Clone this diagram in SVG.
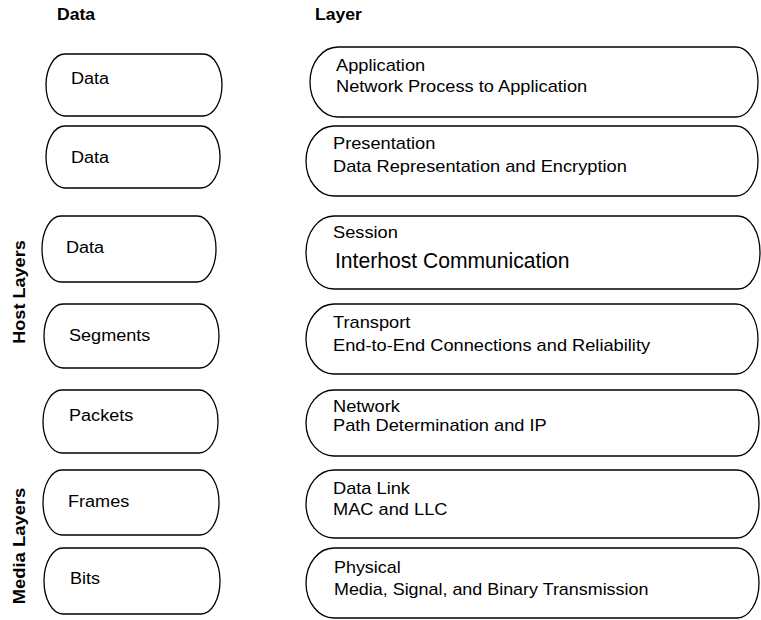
<svg xmlns="http://www.w3.org/2000/svg" width="761" height="620" viewBox="0 0 761 620">
<style>
.shape{fill:#fff;stroke:#000;stroke-width:1.3}
.t{font-family:"Liberation Sans",Arial,sans-serif;font-size:16px;fill:#000}
.big{font-family:"Liberation Sans",Arial,sans-serif;font-size:22px;fill:#000}
.h{font-family:"Liberation Sans",Arial,sans-serif;font-size:16px;font-weight:bold;fill:#000}
</style>
<rect width="761" height="620" fill="#fff"/>
<g id="headings">
<g transform="translate(57,0) scale(1.1,1)"><text class="h" x="0" y="20">Data</text></g>
<g transform="translate(315,0) scale(1.1,1)"><text class="h" x="0" y="20">Layer</text></g>
<text class="h" transform="translate(25,292) rotate(-90) scale(1.13,1)" text-anchor="middle">Host Layers</text>
<text class="h" transform="translate(25,546) rotate(-90) scale(1.15,1)" text-anchor="middle">Media Layers</text>
</g>
<g id="connectors"></g>
<g id="data1"><path class="shape" d="M65,54 H203 A19,31 0 0 1 203,116 H65 A19,31 0 0 1 65,54 Z"/><g transform="translate(71,0) scale(1.13,1)"><text class="t" x="0" y="84">Data</text></g></g>
<g id="data2"><path class="shape" d="M65,126 H201 A19,31 0 0 1 201,188 H65 A19,31 0 0 1 65,126 Z"/><g transform="translate(71,0) scale(1.13,1)"><text class="t" x="0" y="163">Data</text></g></g>
<g id="data3"><path class="shape" d="M61,216 H197 A19,33 0 0 1 197,282 H61 A19,33 0 0 1 61,216 Z"/><g transform="translate(66,0) scale(1.13,1)"><text class="t" x="0" y="253">Data</text></g></g>
<g id="segments"><path class="shape" d="M63,304 H200 A19,32 0 0 1 200,368 H63 A19,32 0 0 1 63,304 Z"/><g transform="translate(69,0) scale(1.13,1)"><text class="t" x="0" y="341">Segments</text></g></g>
<g id="packets"><path class="shape" d="M62,390 H199 A19,31.5 0 0 1 199,453 H62 A19,31.5 0 0 1 62,390 Z"/><g transform="translate(69,0) scale(1.13,1)"><text class="t" x="0" y="421">Packets</text></g></g>
<g id="frames"><path class="shape" d="M62,470 H200 A19,32.5 0 0 1 200,535 H62 A19,32.5 0 0 1 62,470 Z"/><g transform="translate(68,0) scale(1.13,1)"><text class="t" x="0" y="507">Frames</text></g></g>
<g id="bits"><path class="shape" d="M63,548 H201 A19,33 0 0 1 201,614 H63 A19,33 0 0 1 63,548 Z"/><g transform="translate(70,0) scale(1.13,1)"><text class="t" x="0" y="584">Bits</text></g></g>
<g id="application"><path class="shape" d="M338,47 H736 A22,35 0 0 1 736,117 H338 A28,35 0 0 1 338,47 Z"/><g transform="translate(336,0) scale(1.14,1)"><text class="t" x="0" y="71">Application</text><text class="t" x="0" y="92">Network Process to Application</text></g></g>
<g id="presentation"><path class="shape" d="M334,126 H736 A22,35 0 0 1 736,196 H334 A28,35 0 0 1 334,126 Z"/><g transform="translate(333,0) scale(1.14,1)"><text class="t" x="0" y="149">Presentation</text><text class="t" x="0" y="172">Data Representation and Encryption</text></g></g>
<g id="session"><path class="shape" d="M334,216 H738 A22,36.5 0 0 1 738,289 H334 A28,36.5 0 0 1 334,216 Z"/><g transform="translate(333,0) scale(1.14,1)"><text class="t" x="0" y="238">Session</text></g><g transform="translate(335,0) scale(0.96,1)"><text class="big" x="0" y="268">Interhost Communication</text></g></g>
<g id="transport"><path class="shape" d="M334,304 H736 A22,35 0 0 1 736,374 H334 A28,35 0 0 1 334,304 Z"/><g transform="translate(333,0) scale(1.14,1)"><text class="t" x="0" y="328">Transport</text><text class="t" x="0" y="351">End-to-End Connections and Reliability</text></g></g>
<g id="network"><path class="shape" d="M334,390 H737 A22,33 0 0 1 737,456 H334 A28,33 0 0 1 334,390 Z"/><g transform="translate(333,0) scale(1.14,1)"><text class="t" x="0" y="412">Network</text><text class="t" x="0" y="431">Path Determination and IP</text></g></g>
<g id="datalink"><path class="shape" d="M334,470 H737 A22,34 0 0 1 737,538 H334 A28,34 0 0 1 334,470 Z"/><g transform="translate(333,0) scale(1.14,1)"><text class="t" x="0" y="494">Data Link</text><text class="t" x="0" y="515">MAC and LLC</text></g></g>
<g id="physical"><path class="shape" d="M334,548 H737 A22,35 0 0 1 737,618 H334 A28,35 0 0 1 334,548 Z"/><g transform="translate(334,0) scale(1.12,1)"><text class="t" x="0" y="573">Physical</text><text class="t" x="0" y="595">Media, Signal, and Binary Transmission</text></g></g>
</svg>
